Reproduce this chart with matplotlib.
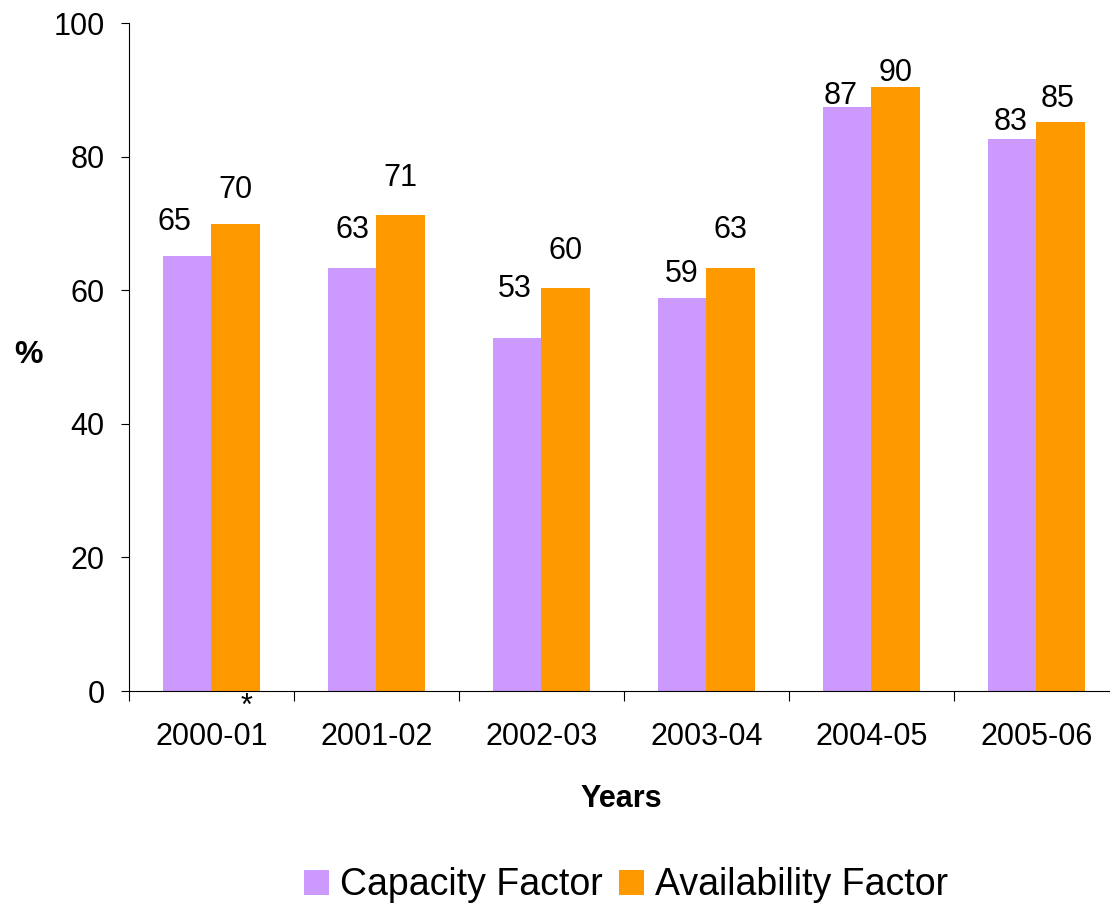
import matplotlib
matplotlib.use("Agg")
import matplotlib.pyplot as plt
import numpy as np

# Data
years = ['2000-01', '2001-02', '2002-03', '2003-04', '2004-05', '2005-06']
capacity = [65.1, 63.3, 52.8, 58.9, 87.4, 82.6]
availability = [69.9, 71.2, 60.3, 63.3, 90.4, 85.2]

# label nudges (points) for the value labels: (dx, dy above bar top)
cap_dx = [-9, 0, -1.5, 0, -4.5, -1]
cap_dy = [19, 21.5, 29.5, 11, 2.5, 6.5]
avl_dx = [0, 0, -0.5, 0, 0, -2]
avl_dy = [19, 21, 21, 21.5, 4.5, 11]

plt.rcParams['font.family'] = ['Liberation Sans', 'DejaVu Sans']

fig = plt.figure(figsize=(11.1, 9.07), dpi=100)
ax = fig.add_axes([0.1162, 0.2381, 0.8919, 0.7365])

x = np.arange(len(years))
w = 0.295
b1 = ax.bar(x - w / 2, capacity, w, color='#CC99FF', label='Capacity Factor')
b2 = ax.bar(x + w / 2, availability, w, color='#FF9900', label='Availability Factor')

for i, (c, a) in enumerate(zip(capacity, availability)):
    ax.annotate(f"{c:.0f}", (x[i] - w / 2, c), xytext=(cap_dx[i], cap_dy[i]),
                textcoords='offset points', ha='center', va='baseline', fontsize=22)
    ax.annotate(f"{a:.0f}", (x[i] + w / 2, a), xytext=(avl_dx[i], avl_dy[i]),
                textcoords='offset points', ha='center', va='baseline', fontsize=22)

# footnote mark under the first year
ax.annotate('*', (0.213, 0), xycoords=('data', 'axes fraction'), xytext=(0, -17),
            textcoords='offset points', ha='center', va='baseline', fontsize=22,
            annotation_clip=False)

ax.set_xlim(-0.5, 5.5)
ax.set_ylim(0, 100)
ax.set_yticks(range(0, 101, 20))
ax.tick_params(axis='y', labelsize=22, length=6, width=0.8, pad=11.5, direction='out')

# group boundaries as major ticks, year labels on minor ticks at the centres
ax.set_xticks(np.arange(-0.5, 6, 1))
ax.set_xticklabels([])
ax.set_xticks(x, minor=True)
ax.set_xticklabels(years, minor=True)
ax.tick_params(axis='x', which='major', length=7, width=0.8, direction='out')
ax.tick_params(axis='x', which='minor', length=0, labelsize=22, pad=22)

for s in ['top', 'right']:
    ax.spines[s].set_visible(False)
for s in ['left', 'bottom']:
    ax.spines[s].set_linewidth(0.8)
    ax.spines[s].set_color('black')

fig.text(0.026, 0.609, '%', fontsize=23, fontweight='bold', ha='center', va='center')
fig.text(0.560, 0.119, 'Years', fontsize=22, fontweight='bold', ha='center', va='center')

fig.legend(handles=[b1, b2], loc='center', bbox_to_anchor=(0.564, 0.024), ncol=2,
           frameon=False, fontsize=27, handlelength=0.65, handleheight=0.65,
           handletextpad=0.3, columnspacing=0.45, borderpad=0)

fig.savefig('out.png', dpi=100)
